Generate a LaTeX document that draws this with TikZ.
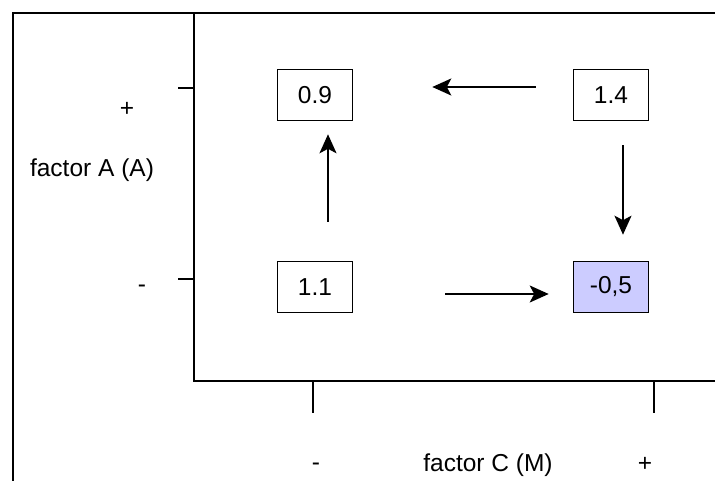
\documentclass[tikz,border=0pt]{standalone}
\usepackage{fontspec}
\setmainfont{Liberation Sans}
\usetikzlibrary{arrows.meta}
\definecolor{lowfill}{RGB}{204,204,255}
\begin{document}
\begin{tikzpicture}[x=1pt,y=-1pt,
  axis/.style={line width=2pt},
  valbox/.style={draw,line width=1.6pt,minimum width=75pt,minimum height=51pt,inner sep=0pt,font=\fontsize{24.5}{28}\selectfont},
  lab/.style={anchor=base,inner sep=0pt,font=\fontsize{24.5}{28}\selectfont},
  arr/.style={line width=2pt,-{Stealth[length=19pt,width=17pt,inset=4.5pt]}}]
\useasboundingbox (0,0) rectangle (715,481);
% outer frame and axes
\draw[axis] (13,481) -- (13,13) -- (715,13);
\draw[axis] (194,13) -- (194,381) -- (715,381);
% ticks
\draw[axis] (178,88) -- (194,88);
\draw[axis] (178,279) -- (194,279);
\draw[axis] (313,381) -- (313,413);
\draw[axis] (654,381) -- (654,413);
% axis labels
\node[lab] (aplus) at (127,117) {+};
\node[lab] (aminus) at (142,292) {-};
\node[lab] (alab) at (92,177) {factor A (A)};
\node[lab] (cminus) at (316,470) {-};
\node[lab] (clab) at (488,471) {factor C (M)};
\node[lab] (cplus) at (645,471) {+};
% values
\node[valbox] (ul) at (315,95) {0.9};
\node[valbox] (ur) at (611,95) {1.4};
\node[valbox] (ll) at (315,287) {1.1};
\node[valbox,fill=lowfill] (lr) at (611,287) {-0,5};
% effects
\draw[arr] ([xshift=13pt,yshift=39pt]ll.north) -- ([xshift=13pt,yshift=-13pt]ul.south);
\draw[arr] ([xshift=12pt,yshift=-24pt]ur.south) -- ([xshift=12pt,yshift=26pt]lr.north);
\draw[arr] ([xshift=-37pt,yshift=8pt]ur.west) -- ([xshift=79pt,yshift=8pt]ul.east);
\draw[arr] ([xshift=92pt,yshift=-7pt]ll.east) -- ([xshift=-24pt,yshift=-7pt]lr.west);
\end{tikzpicture}
\end{document}
